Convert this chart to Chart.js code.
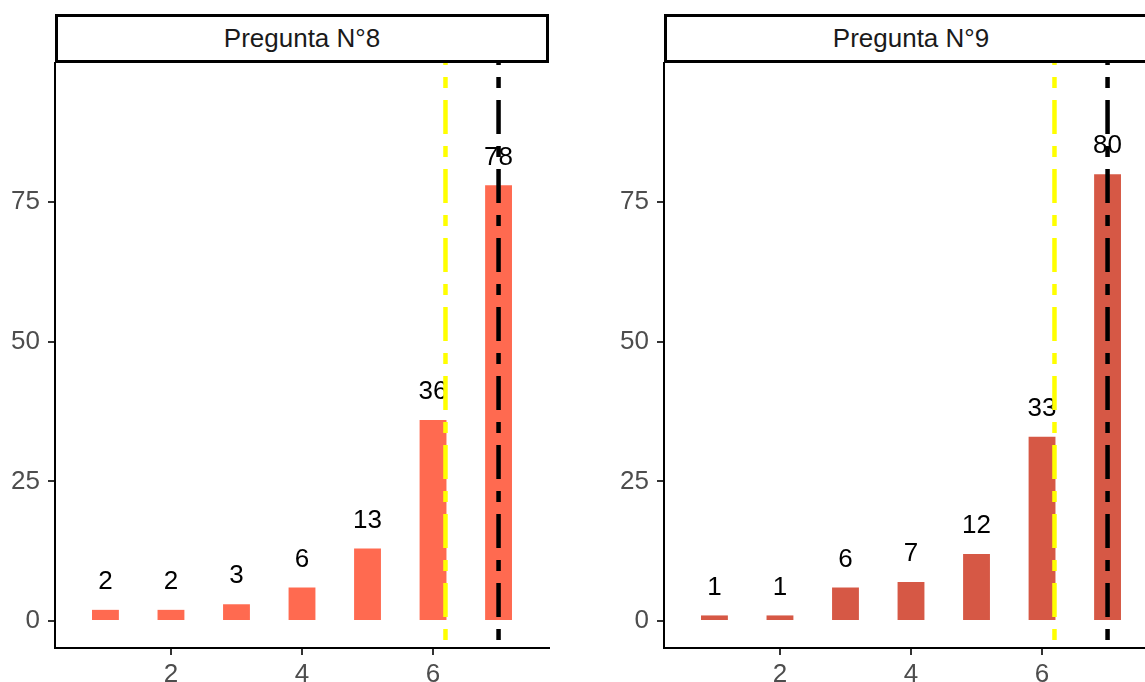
<!DOCTYPE html>
<html>
<head>
<meta charset="utf-8">
<script src="https://cdn.jsdelivr.net/npm/chart.js@4"></script>
<style>
  html, body { margin: 0; padding: 0; background: #fff; overflow: hidden; width: 1145px; height: 682px; }
  .panel { position: absolute; top: 0; width: 560px; height: 682px; }
  .strip {
    position: absolute; top: 14px; left: 55px; width: 494px; height: 49px;
    box-sizing: border-box; border: 3px solid #000; background: #fff;
    font: 26px "Liberation Sans", Arial, sans-serif; color: #1a1a1a;
    text-align: center; line-height: 43px;
  }
</style>
</head>
<body>
<div class="panel" style="left:0">
  <canvas id="c8" width="560" height="682"></canvas>
  <div class="strip" id="s8"></div>
</div>
<div class="panel" style="left:609px">
  <canvas id="c9" width="560" height="682"></canvas>
  <div class="strip" id="s9"></div>
</div>
<script>
const panelTitles = ['Pregunta N°8', 'Pregunta N°9'];
const scores = [1, 2, 3, 4, 5, 6, 7];
const counts8 = [2, 2, 3, 6, 13, 36, 78];
const counts9 = [1, 1, 6, 7, 12, 33, 80];
const meanLines = [6.19, 6.19];
const medianLines = [7, 7];
const xTicks = [2, 4, 6];
const yTicks = [0, 25, 50, 75];
const barColors = ['#FF6A50', '#D65845'];

Chart.defaults.font.family = '"Liberation Sans", Arial, sans-serif';
Chart.defaults.font.size = 26;

// bar labels first, then the two reference lines on top
const overlay = {
  id: 'overlay',
  afterDatasetsDraw(chart, args, opts) {
    const ctx = chart.ctx;
    const meta = chart.getDatasetMeta(0);
    const area = chart.chartArea;
    ctx.save();
    ctx.fillStyle = '#000';
    ctx.font = '26px "Liberation Sans", Arial, sans-serif';
    ctx.textAlign = 'center';
    ctx.textBaseline = 'middle';
    meta.data.forEach((bar, i) => {
      ctx.fillText(String(opts.counts[i]), bar.x, bar.y - 28);
    });
    const xs = chart.scales.x;
    const vline = (val, color) => {
      const px = xs.getPixelForValue(val);
      ctx.beginPath();
      ctx.strokeStyle = color;
      ctx.lineWidth = 4.5;
      ctx.setLineDash([11, 12, 34, 12]);
      ctx.lineDashOffset = -8;
      ctx.moveTo(px, area.bottom);
      ctx.lineTo(px, area.top);
      ctx.stroke();
    };
    vline(opts.mean, '#FFFF00');
    vline(opts.median, '#000000');
    ctx.restore();
  }
};

function makePanel(canvasId, stripId, title, counts, color, mean, median) {
  document.getElementById(stripId).textContent = title;
  const ctx = document.getElementById(canvasId).getContext('2d');
  return new Chart(ctx, {
    type: 'bar',
    data: {
      datasets: [{
        data: counts.map((c, i) => ({ x: scores[i], y: c })),
        backgroundColor: color,
        barPercentage: 0.41,
        categoryPercentage: 1
      }]
    },
    options: {
      responsive: false,
      animation: false,
      layout: { padding: { top: 63, right: 11, left: 0, bottom: 0 } },
      plugins: {
        legend: { display: false },
        tooltip: { enabled: false },
        overlay: { counts, mean, median }
      },
      scales: {
        x: {
          type: 'linear',
          offset: false,
          min: 0.23, max: 7.77,
          afterBuildTicks: s => { s.ticks = xTicks.map(v => ({ value: v })); },
          afterFit: s => { s.height = 34; },
          grid: { offset: false, drawOnChartArea: false, drawTicks: true, tickLength: 7, color: '#333', lineWidth: 2 },
          border: { display: true, color: '#000', width: 2 },
          ticks: { color: '#4D4D4D', padding: 4, maxRotation: 0 }
        },
        y: {
          min: -4.83, max: 99.9,
          afterBuildTicks: s => { s.ticks = yTicks.map(v => ({ value: v })); },
          afterFit: s => { s.width = 55; },
          grid: { drawOnChartArea: false, drawTicks: true, tickLength: 7, color: '#333', lineWidth: 2 },
          border: { display: true, color: '#000', width: 2 },
          ticks: { color: '#4D4D4D', padding: 8 }
        }
      }
    },
    plugins: [overlay]
  });
}

makePanel('c8', 's8', panelTitles[0], counts8, barColors[0], meanLines[0], medianLines[0]);
makePanel('c9', 's9', panelTitles[1], counts9, barColors[1], meanLines[1], medianLines[1]);
</script>
</body>
</html>
